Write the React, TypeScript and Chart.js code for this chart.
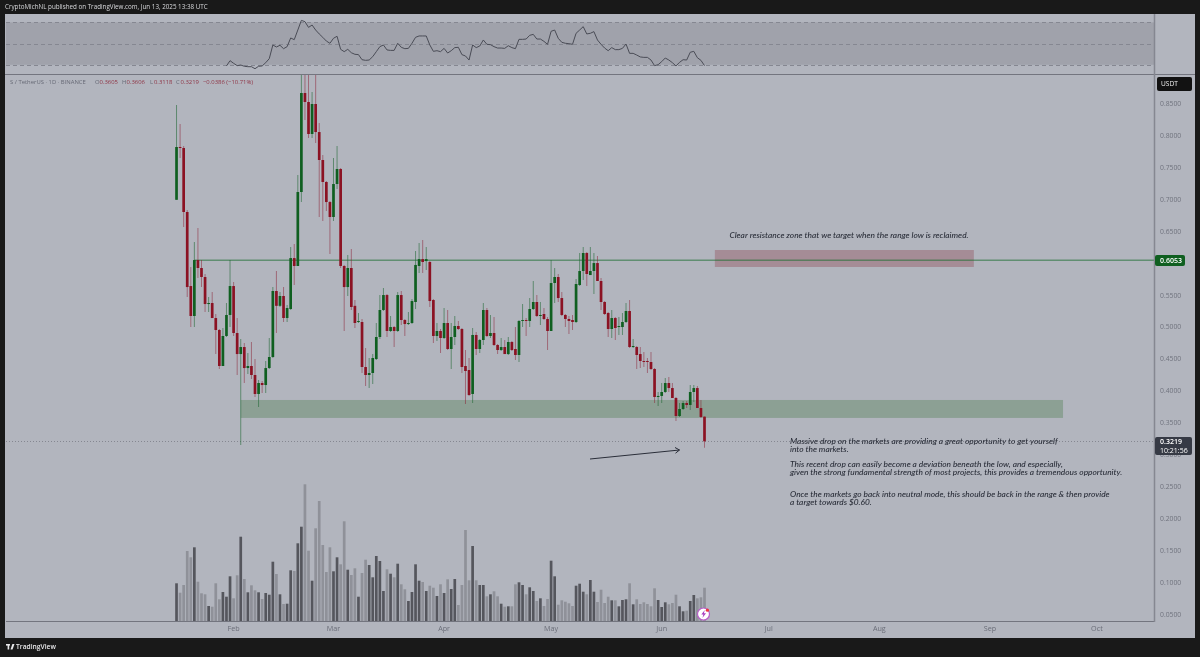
import React, { useEffect, useRef } from "react";
import { Chart, registerables } from "chart.js";

Chart.register(...registerables);

const opens = [
  .7,.7827,.7811,.6809,.565,.5181,.6057,.5932,.5791,.5368,.5384,.5149,.4962,.4398,.4868,.5197,.565,.4915,.4585,.4695,
  .4366,.4398,.4257,.396,.4132,.41,.4366,.4539,.5572,.534,.5494,.5149,.529,.6088,.5964,.7122,.8672,.8531,.803,.85,
  .8061,.7623,.7279,.6965,.6731,.7247,.7482,.5964,.5634,.5932,.534,.5087,.5087,.4382,.4257,.4288,.4507,.4852,.5275,.5509,
  .4946,.5008,.4946,.5509,.5118,.5055,.5071,.54,.5964,.6072,.6041,.6026,.5431,.4868,.4946,.4836,.5071,.4664,.4852,.5024,
  .4977,.4398,.4335,.396,.4884,.4664,.4805,.5275,.4868,.4915,.4727,.4648,.4695,.4585,.4774,.4664,.457,.5103,.5118,.5103,
  .529,.54,.5181,.5212,.5134,.4946,.5697,.5791,.5462,.5197,.5134,.5118,.5087,.5666,.5885,.6167,.5822,.5885,.601,.5729,
  .54,.5228,.4977,.5149,.5008,.5008,.5087,.5259,.4695,.4695,.4585,.4476,.4476,.4461,.4351,.3913,.3929,.3991,.4132,.4053,
  .3897,.3615,.3725,.3819,.3788,.3991,.4053,.374,.3605,
];
const highs = [
  .8484,.8186,.7842,.684,.5948,.634,.6558,.6057,.5838,.5478,.5557,.5212,.4977,.4993,.5384,.6057,.5713,.5149,.4821,.4758,
  .4601,.4774,.4507,.4179,.4163,.4476,.4836,.5634,.5885,.5557,.5634,.5353,.626,.6308,.7388,.93,.93,.93,.8688,.93,
  .8202,.7702,.7294,.6981,.7654,.7842,.7498,.598,.6136,.623,.5431,.5228,.5134,.468,.4523,.4585,.5071,.5509,.5619,.5525,
  .5181,.5024,.5557,.5572,.5134,.5244,.5447,.6198,.6324,.6371,.626,.6041,.5447,.5071,.4977,.5306,.5275,.5071,.5181,.5103,
  .4993,.4648,.4523,.4993,.4931,.4821,.5384,.5306,.5197,.5165,.4742,.4836,.4805,.4852,.4789,.5008,.5118,.5368,.5149,.5462,
  .5729,.5509,.54,.5306,.5165,.6057,.5932,.5838,.5557,.5212,.5181,.5197,.576,.6167,.626,.6182,.626,.6167,.612,.5775,
  .5415,.5244,.5275,.5165,.5165,.5228,.5384,.5431,.4821,.4711,.4695,.4617,.4523,.4617,.4366,.3991,.4132,.421,.4226,.4132,
  .3913,.3819,.385,.385,.41,.41,.4085,.3866,.3606,
];
const lows = [
  .7,.7654,.6574,.5478,.5008,.5008,.5775,.5634,.5244,.5244,.5149,.4585,.4351,.4398,.4852,.5008,.4868,.4257,.3161,.4132,
  .4272,.4195,.3913,.3756,.3975,.3975,.4351,.4523,.4915,.5322,.5087,.5087,.5275,.5666,.5964,.6965,.8249,.7967,.7967,.789,
  .6731,.6668,.6825,.6151,.6668,.7169,.5932,.4946,.5494,.5275,.4993,.5071,.4288,.4085,.4053,.4116,.4492,.4821,.5259,.4852,
  .4931,.4695,.4931,.504,.4868,.504,.5055,.529,.5854,.5854,.5901,.5322,.4758,.4789,.4601,.4821,.4648,.4351,.4727,.4962,
  .4288,.3803,.3929,.3819,.457,.4601,.4727,.4852,.4836,.4711,.4585,.4632,.4585,.457,.4632,.4492,.4461,.5008,.4868,.5008,
  .5275,.5165,.504,.5118,.4648,.4946,.5384,.54,.5181,.5008,.4899,.4962,.5071,.565,.5744,.565,.5822,.5525,.5729,.5275,
  .5197,.4852,.4836,.4805,.4884,.4884,.5071,.468,.468,.4351,.4366,.4382,.4288,.4335,.3819,.3772,.3819,.3975,.3991,.3897,
  .3537,.36,.3709,.374,.3709,.3834,.374,.3584,.3118,
];
const closes = [
  .7827,.7811,.6809,.5634,.5181,.6057,.5932,.5791,.5368,.5384,.5149,.4962,.4398,.4868,.5197,.565,.4915,.4585,.4695,.4366,
  .4398,.4257,.396,.4132,.41,.4366,.4539,.5572,.534,.5494,.5149,.5306,.6088,.5964,.7122,.8672,.8531,.803,.85,.8061,
  .7623,.7279,.6965,.6731,.7247,.7482,.5964,.5634,.5932,.5322,.5071,.5103,.4382,.4257,.4288,.4523,.4852,.5275,.5509,.4946,
  .5008,.4946,.5509,.5118,.5055,.5071,.5415,.598,.6072,.6026,.6072,.5415,.4868,.4946,.4836,.5071,.4664,.4852,.5024,.4977,
  .4382,.432,.3944,.4884,.4664,.4805,.5275,.4868,.4915,.4727,.4648,.4695,.4585,.4774,.4648,.457,.5103,.5118,.5103,.529,
  .54,.5181,.5197,.5134,.4946,.5697,.5791,.5462,.5197,.5134,.5103,.5087,.5682,.5885,.6167,.5838,.5885,.601,.5729,.54,
  .5212,.4977,.5149,.4993,.5024,.5087,.5259,.4695,.4711,.457,.4476,.4461,.4461,.4351,.3913,.3929,.3991,.4132,.4053,.3897,
  .3615,.3725,.3819,.3788,.3991,.4053,.374,.36,.3219,
];
const volumes = [
  37.7,28.3,36,70,63.7,73.7,39.3,27.7,26.7,15,14.3,37.7,21.7,29,24.3,44.7,22.7,45.7,84.3,42,
  28.7,35.7,30.7,28.7,22,28,26.3,59.3,47,26.7,17,17.3,50.7,50,77.7,94.3,136.7,70.3,40.3,92.7,
  120,76,49,73.7,49.7,63.7,56.7,99.7,51.3,46,52.7,24.3,48,61.3,56,43.7,65,60,30,51.7,
  47.3,43.7,57.3,36.7,31.7,20,29,56.7,40.3,39,30,
  35.3,33.3,25,36.7,28,41.7,32,42,16,36,
  91,40.7,75,40.7,36,36,24.7,26.7,29.7,24.7,
  17.3,14.3,14.7,14.7,36.7,38.7,36,26.7,33.7,30,
  20,22.7,15,22,60.3,44.7,16.3,20.7,19.3,17.7,
  15,35.3,37.3,29.3,26.7,41,29.3,19,31.3,18,
  24.3,20.7,20.7,14.7,21,21.7,37.7,16.7,21.7,17,
  18.7,17,14.7,32.7,21,14,18.7,16.7,18,26.3,
  14.7,9.7,10.3,20,26,22.7,23.7,33.3,
];
const rsiStart = 14;
const rsiValues = [
  28.9,33.9,31.4,29.2,29.8,28.6,28.2,28.2,26.3,28.6,28.9,32.0,35.8,48.7,46.8,48.4,45.2,47.1,55.3,53.7,
  62.8,71.9,70.7,65.3,67.5,62.8,59.1,55.9,52.4,50.3,55.0,56.9,44.6,42.4,44.6,41.4,39.9,39.6,34.8,34.2,
  34.5,37.7,42.4,47.1,48.7,44.0,43.6,43.6,50.3,46.5,45.2,45.5,50.3,55.9,57.2,57.2,57.2,48.7,42.7,43.3,
  42.4,45.5,41.1,43.3,46.2,46.5,39.6,38.3,34.5,48.7,46.2,47.7,53.4,49.3,49.0,47.1,45.8,
  45.8,45.5,48.0,46.2,45.2,54.0,54.0,54.3,57.8,58.7,54.3,54.3,52.1,49.3,61.6,62.8,55.0,51.2,50.3,49.9,
  49.3,59.7,62.8,66.0,59.1,59.7,61.3,53.4,49.3,45.8,43.3,46.2,44.3,44.3,45.5,49.6,40.8,40.8,39.2,37.4,
  37.0,37.0,34.5,29.2,30.1,33.0,36.4,34.5,32.0,28.9,32.3,34.8,34.5,41.8,42.7,36.7,34.2,29.2,
];
const monthDays = [16, 44, 75, 105, 136, 166, 197, 228, 258];
const monthLabels = ["Feb", "Mar", "Apr", "May", "Jun", "Jul", "Aug", "Sep", "Oct"];
const priceTicks = [.85,.8,.75,.7,.65,.6,.55,.5,.45,.4,.35,.3,.25,.2,.15,.1,.05];
const rsiTicks = [60, 40];
const rsiLevels = [70, 50, 30];
const rangeHigh = 0.6053;
const lastPrice = 0.3219;

const UP = "#0f5f20";
const DOWN = "#8b1223";
const UP_WICK = "rgba(25,100,45,0.55)";
const DOWN_WICK = "rgba(140,30,50,0.5)";
const VOL_UP = "#55565d";
const VOL_DOWN = "#8f9199";
const UI = "'Open Sans', sans-serif";
const NOTE = "italic 500 8.35px Lato, 'Open Sans', sans-serif";

const noteLines: [string, number][] = [
  ["Massive drop on the markets are providing a great opportunity to get yourself", 441],
  ["into the markets.", 449],
  ["This recent drop can easily become a deviation beneath the low, and especially,", 464],
  ["given the strong fundamental strength of most projects, this provides a tremendous opportunity.", 472],
  ["Once the markets go back into neutral mode, this should be back in the range & then provide", 494],
  ["a target towards $0.60.", 502],
];

const isUp = (i: number) => closes[i] >= opens[i];

const paint = {
  id: "paint",
  beforeDraw(chart: any) {
    const c = chart.ctx;
    c.save();
    c.fillStyle = "#191919";
    c.fillRect(0, 0, 1200, 657);
    c.fillStyle = "#b2b5be";
    c.fillRect(5, 14, 1190, 624);
    c.restore();
  },
  beforeDatasetsDraw(chart: any) {
    const c = chart.ctx;
    const { x, price, rsi } = chart.scales;
    const { left, right, top, bottom } = chart.chartArea;
    c.save();
    // RSI band
    c.fillStyle = "#a0a2ab";
    const y70 = rsi.getPixelForValue(rsiLevels[0]);
    const y30 = rsi.getPixelForValue(rsiLevels[2]);
    c.fillRect(left, y70, right - left, y30 - y70);
    c.strokeStyle = "#858791";
    c.lineWidth = 1;
    c.setLineDash([4, 3]);
    rsiLevels.forEach((l) => {
      const y = Math.round(rsi.getPixelForValue(l)) + 0.5;
      c.beginPath();
      c.moveTo(left, y);
      c.lineTo(right, y);
      c.stroke();
    });
    c.setLineDash([]);
    // zones
    c.fillStyle = "#8ca094";
    const gx0 = x.getPixelForValue(18);
    const gx1 = x.getPixelForValue(248.5);
    const gy0 = price.getPixelForValue(0.3866);
    const gy1 = price.getPixelForValue(0.3585);
    c.fillRect(gx0, gy0, gx1 - gx0, gy1 - gy0);
    c.fillStyle = "#a58c96";
    const rx0 = x.getPixelForValue(150.9);
    const rx1 = x.getPixelForValue(223.5);
    const ry0 = price.getPixelForValue(0.6214);
    const ry1 = price.getPixelForValue(0.5948);
    c.fillRect(rx0, ry0, rx1 - rx0, ry1 - ry0);
    // range high line
    c.strokeStyle = "rgba(30,110,50,0.55)";
    c.lineWidth = 1.4;
    const yr = price.getPixelForValue(rangeHigh);
    c.beginPath();
    c.moveTo(x.getPixelForValue(5), yr);
    c.lineTo(right, yr);
    c.stroke();
    // last price line
    c.strokeStyle = "#858791";
    c.lineWidth = 1;
    c.setLineDash([1, 2]);
    const yl = Math.round(price.getPixelForValue(lastPrice)) + 0.5;
    c.beginPath();
    c.moveTo(left, yl);
    c.lineTo(right, yl);
    c.stroke();
    c.setLineDash([]);
    // pane borders
    c.strokeStyle = "#73757f";
    c.lineWidth = 1.2;
    c.beginPath();
    c.moveTo(5, 74.5);
    c.lineTo(1195, 74.5);
    c.moveTo(left, 621.5);
    c.lineTo(right, 621.5);
    c.stroke();
    c.strokeStyle = "#858791";
    c.lineWidth = 1.5;
    c.beginPath();
    c.moveTo(right + 0.5, top);
    c.lineTo(right + 0.5, bottom);
    c.stroke();
    c.restore();
  },
  afterDatasetsDraw(chart: any) {
    const c = chart.ctx;
    c.save();
    c.textBaseline = "middle";
    c.textAlign = "left";
    // title
    c.fillStyle = "#d8d9dc";
    c.font = `6.25px ${UI}`;
    c.fillText("CryptoMichNL published on TradingView.com, Jun 13, 2025 13:38 UTC", 5, 7.5);
    // legend
    const seg = (t: string, x: number, col: string) => {
      c.fillStyle = col;
      c.fillText(t, x, 82);
    };
    c.font = `5.9px ${UI}`;
    const g = "#676a76";
    const r = "#8f3445";
    seg("S / TetherUS · 1D · BINANCE", 10, g);
    seg("O", 95, g);
    seg("0.3605", 99.5, r);
    seg("H", 122, g);
    seg("0.3606", 126.5, r);
    seg("L", 150, g);
    seg("0.3118", 154, r);
    seg("C", 176, g);
    seg("0.3219", 180.5, r);
    seg("−0.0386 (−10.71%)", 203, r);
    // annotations
    c.font = NOTE;
    c.fillStyle = "#2a2e39";
    c.fillText("Clear resistance zone that we target when the range low is reclaimed.", 729.5, 235.5);
    noteLines.forEach(([t, y]) => c.fillText(t, 790, y));
    // arrow
    c.strokeStyle = "#2a2e39";
    c.lineWidth = 1;
    c.beginPath();
    c.moveTo(590, 459);
    c.lineTo(679.5, 450);
    c.moveTo(675, 447.5);
    c.lineTo(679.5, 450);
    c.lineTo(675.5, 453.2);
    c.stroke();
    // price labels
    const box = (x: number, y: number, w: number, h: number, col: string) => {
      c.fillStyle = col;
      c.beginPath();
      c.roundRect(x, y, w, h, 2);
      c.fill();
    };
    box(1157, 77, 35, 14, "#121212");
    c.fillStyle = "#f0f0f0";
    c.font = `6.6px ${UI}`;
    c.fillText("USDT", 1161, 84.3);
    box(1155, 255, 30, 11, "#0f5f20");
    c.fillStyle = "#ffffff";
    c.font = `600 7px ${UI}`;
    c.fillText("0.6053", 1160, 260.6);
    box(1155, 437, 37, 18, "#363a45");
    c.fillStyle = "#ffffff";
    c.fillText("0.3219", 1160, 442);
    c.font = `500 7px ${UI}`;
    c.fillText("10:21:56", 1160, 450.5);
    // x-session icon
    c.beginPath();
    c.arc(703.5, 614, 6, 0, Math.PI * 2);
    c.fillStyle = "#ffffff";
    c.fill();
    c.lineWidth = 1.2;
    c.strokeStyle = "#b85cc8";
    c.stroke();
    c.fillStyle = "#a83fc0";
    c.beginPath();
    c.moveTo(704.8, 610);
    c.lineTo(701.3, 614.6);
    c.lineTo(703.4, 614.6);
    c.lineTo(702.4, 618);
    c.lineTo(706, 613.2);
    c.lineTo(703.9, 613.2);
    c.closePath();
    c.fill();
    c.fillStyle = "#ee3344";
    c.beginPath();
    c.arc(707.4, 610.2, 1.6, 0, Math.PI * 2);
    c.fill();
    // footer
    c.fillStyle = "#e8e8ea";
    c.fillRect(6, 644, 4, 1.6);
    c.fillRect(7.6, 644, 1.6, 5.5);
    c.beginPath();
    c.moveTo(10.5, 649.5);
    c.lineTo(12.4, 644);
    c.lineTo(14.5, 644);
    c.lineTo(12.5, 649.5);
    c.closePath();
    c.fill();
    c.font = `600 6.7px ${UI}`;
    c.fillText("TradingView", 16, 647);
    c.restore();
  },
};

const forceWidth = (w: number) => (s: any) => {
  s.width = w;
  s.paddingTop = 0;
  s.paddingBottom = 0;
};

export default function App() {
  const ref = useRef<HTMLCanvasElement | null>(null);
  useEffect(() => {
    const n = closes.length;
    const idx = Array.from({ length: n }, (_, i) => i);
    const tickFont = { family: "'Open Sans', sans-serif", size: 6.8 };
    const noGrid = { display: false, drawTicks: false };
    const chart = new Chart(ref.current as HTMLCanvasElement, {
      type: "bar",
      data: {
        datasets: [
          {
            type: "bar",
            label: "Volume",
            yAxisID: "vol",
            xAxisID: "x",
            grouped: false,
            barThickness: 2.7,
            inflateAmount: 0,
            data: idx.map((i) => ({ x: i, y: volumes[i] })),
            backgroundColor: idx.map((i) => (isUp(i) ? VOL_UP : VOL_DOWN)),
            order: 4,
          },
          {
            type: "bar",
            label: "Wick",
            yAxisID: "price",
            xAxisID: "x",
            grouped: false,
            barThickness: 1,
            inflateAmount: 0,
            clip: { top: -61, left: 0, right: 0, bottom: 0 },
            data: idx.map((i) => ({ x: i, y: [lows[i], highs[i]] })),
            backgroundColor: idx.map((i) => (isUp(i) ? UP_WICK : DOWN_WICK)),
            order: 3,
          },
          {
            type: "bar",
            label: "Body",
            yAxisID: "price",
            xAxisID: "x",
            grouped: false,
            barThickness: 2.7,
            inflateAmount: 0,
            minBarLength: 1,
            clip: { top: -61, left: 0, right: 0, bottom: 0 },
            data: idx.map((i) => ({ x: i, y: [opens[i], closes[i]] })),
            backgroundColor: idx.map((i) => (isUp(i) ? UP : DOWN)),
            order: 2,
          },
          {
            type: "line",
            label: "RSI",
            yAxisID: "rsi",
            xAxisID: "x",
            data: rsiValues.map((v, i) => ({ x: i + rsiStart, y: v })),
            borderColor: "#4a4c56",
            borderWidth: 1,
            pointRadius: 0,
            tension: 0,
            order: 1,
          },
        ],
      } as any,
      options: {
        responsive: false,
        animation: false,
        devicePixelRatio: 1,
        layout: { padding: { left: 6, top: 14, right: 5, bottom: 19 } },
        plugins: { legend: { display: false }, tooltip: { enabled: false } },
        scales: {
          x: {
            type: "linear",
            offset: false,
            min: -47.8,
            max: 274,
            grid: noGrid,
            border: { display: false },
            afterBuildTicks: (s: any) => {
              s.ticks = monthDays.map((value) => ({ value }));
            },
            afterFit: (s: any) => {
              s.height = 16;
            },
            ticks: {
              autoSkip: false,
              maxRotation: 0,
              padding: 3,
              color: "#6a6d78",
              font: { family: "'Open Sans', sans-serif", size: 7.2 },
              callback: (v: any) => monthLabels[monthDays.indexOf(v)],
            },
          },
          rsi: {
            type: "linear",
            position: "right",
            weight: 0,
            min: -495.7,
            max: 77.92,
            grid: noGrid,
            border: { display: false },
            afterBuildTicks: (s: any) => {
              s.ticks = rsiTicks.map((value) => ({ value }));
            },
            afterFit: forceWidth(0),
            ticks: {
              autoSkip: false,
              padding: 6,
              color: "#70737e",
              font: tickFont,
              callback: (v: any) => Number(v).toFixed(2),
            },
          },
          price: {
            type: "linear",
            position: "right",
            weight: 1,
            min: 0.039,
            max: 0.9909,
            grid: noGrid,
            border: { display: false },
            afterBuildTicks: (s: any) => {
              s.ticks = priceTicks.map((value) => ({ value }));
            },
            afterFit: forceWidth(41),
            ticks: {
              autoSkip: false,
              padding: 6,
              color: "#70737e",
              font: tickFont,
              callback: (v: any) => Number(v).toFixed(4),
            },
          },
          vol: {
            type: "linear",
            display: false,
            min: -1,
            max: 607,
          },
        },
      } as any,
      plugins: [paint],
    });
    return () => chart.destroy();
  }, []);
  return (
    <div style={{ position: "fixed", left: 0, top: 0, width: 1200, height: 657 }}>
      <canvas ref={ref} width={1200} height={657} style={{ display: "block", width: 1200, height: 657 }} />
    </div>
  );
}
